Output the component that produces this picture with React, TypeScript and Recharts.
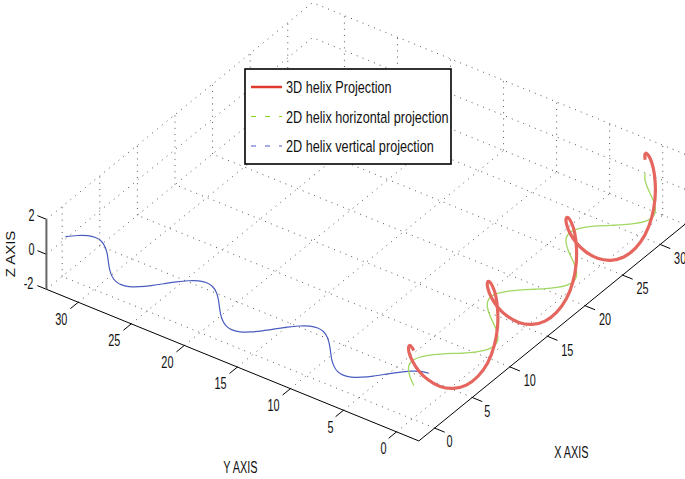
import { ComposedChart, Legend, Line, XAxis, YAxis } from "recharts";

const WIDTH = 685;
const HEIGHT = 479;

// helix values, in axis units
const helixAlong = [
  0, 0.65, 1.31, 1.96, 2.62, 3.27, 3.93, 4.58, 5.24, 5.89, 6.54, 7.2, 7.85, 8.51, 9.16, 9.82, 10.47,
  11.13, 11.78, 12.44, 13.09, 13.74, 14.4, 15.05, 15.71, 16.36, 17.02, 17.67, 18.33, 18.98, 19.63, 20.29, 20.94,
  21.6, 22.25, 22.91, 23.56, 24.22, 24.87, 25.53, 26.18, 26.83, 27.49, 28.14, 28.8, 29.45, 30.11, 30.76, 31.42,
  32.07, 32.72, 33.38,
];
const helixCos = [
  2, 1.85, 1.41, 0.77, 0, -0.77, -1.41, -1.85, -2, -1.85, -1.41, -0.77, 0, 0.77, 1.41, 1.85, 2,
  1.85, 1.41, 0.77, 0, -0.77, -1.41, -1.85, -2, -1.85, -1.41, -0.77, 0, 0.77, 1.41, 1.85, 2,
  1.85, 1.41, 0.77, 0, -0.77, -1.41, -1.85, -2, -1.85, -1.41, -0.77, 0, 0.77, 1.41, 1.85, 2,
  1.85, 1.41, 0.77,
];
const helixSin = [
  0, 0.77, 1.41, 1.85, 2, 1.85, 1.41, 0.77, 0, -0.77, -1.41, -1.85, -2, -1.85, -1.41, -0.77, 0,
  0.77, 1.41, 1.85, 2, 1.85, 1.41, 0.77, 0, -0.77, -1.41, -1.85, -2, -1.85, -1.41, -0.77, 0,
  0.77, 1.41, 1.85, 2, 1.85, 1.41, 0.77, 0, -0.77, -1.41, -1.85, -2, -1.85, -1.41, -0.77, 0,
  0.77, 1.41, 1.85,
];

const xyTicks = [0, 5, 10, 15, 20, 25, 30];
const zTicks = [-2, 0, 2];
const xLim = [-2.1, 33.3];
const yLim = [-2.1, 33];
const zLim = [-2, 2];

const legendRows = [
  { label: "3D helix Projection", color: "#e03a2e", width: 2.5, dash: undefined },
  { label: "2D helix horizontal projection", color: "#84d414", width: 1, dash: "5 9" },
  { label: "2D helix vertical projection", color: "#4a5cc8", width: 1, dash: "5 9" },
];

// MATLAB style orthographic view, fitted to the tick positions
const project = (x: number, y: number, z: number) => ({
  sx: 413.5 + 7.54 * x - 10.64 * y,
  sy: 384 - 6.12 * x - 4.32 * y - 17.5 * z,
});

const seg = (a: number[], b: number[]) => [project(a[0], a[1], a[2]), project(b[0], b[1], b[2])];

const [x0, x1] = xLim;
const [y0, y1] = yLim;
const [z0, z1] = zLim;

const gridLines = [
  ...xyTicks.map((t) => seg([t, y0, z0], [t, y1, z0])),
  ...xyTicks.map((t) => seg([x0, t, z0], [x1, t, z0])),
  ...xyTicks.map((t) => seg([t, y1, z0], [t, y1, z1])),
  ...xyTicks.map((t) => seg([x1, t, z0], [x1, t, z1])),
  ...zTicks.map((t) => seg([x0, y1, t], [x1, y1, t])),
  ...zTicks.map((t) => seg([x1, y0, t], [x1, y1, t])),
];

const axisLines = [
  seg([x0, y0, z0], [x1, y0, z0]),
  seg([x0, y0, z0], [x0, y1, z0]),
  ...xyTicks.map((t) => seg([t, y0, z0], [t, y0 - 0.95, z0])),
  ...xyTicks.map((t) => seg([x0 - 1.05, t, z0], [x0, t, z0])),
  ...zTicks.map((t) => seg([x0, y1, t], [x0, y1 + 0.85, t])),
];
const zAxisLine = seg([x0, y1, z0], [x0, y1, z1]);

const shifted = (p: { sx: number; sy: number }, dx: number, dy: number, label = "", rotate = false) => ({
  sx: p.sx + dx,
  sy: p.sy + dy,
  label,
  rotate,
});

// the curves sit a touch off the fitted grid in the picture
const redData = helixAlong.map((t, i) => shifted(project(t, helixSin[i], helixCos[i]), 1.5, 1.5));
const greenData = helixAlong.map((t, i) => shifted(project(t, helixSin[i], 0), 1.5, 1.5));
const blueData = helixAlong.map((t, i) => shifted(project(helixCos[i], t, 0), 1.5, 1.5));

const labelData = [
  ...xyTicks.map((t) => shifted(project(t, y0, z0), t < 10 ? 15 : 20, 14, String(t))),
  ...xyTicks.map((t) => shifted(project(x0, t, z0), t < 10 ? -13 : -17, 17, String(t))),
  ...zTicks.map((t) => shifted(project(x0, y1, t), t < 0 ? -18 : -15, t === 2 ? -4 : t === 0 ? -5 : -6, String(t))),
  { sx: 573, sy: 453, label: "X AXIS", rotate: false },
  { sx: 241, sy: 468, label: "Y AXIS", rotate: false },
  { sx: 11, sy: 254, label: "Z AXIS", rotate: true },
];

const FONT = "'Liberation Sans', Arial, sans-serif";

function LabelDot(props: any) {
  const { cx, cy, payload, index } = props;
  // the reference is squeezed sideways, text included
  const transform = payload.rotate
    ? `translate(${cx},${cy}) scale(0.8,1) rotate(-90)`
    : `translate(${cx},${cy}) scale(0.68,1)`;
  const size = payload.rotate ? 15 : 16;
  return (
    <text key={index} transform={transform} textAnchor="middle" dominantBaseline="central" fontFamily={FONT} fontSize={size} fill="#111">
      {payload.label}
    </text>
  );
}

function HelixLegend() {
  return (
    <svg width={208} height={97} style={{ display: "block" }}>
      <rect x={1} y={1} width={206} height={95} fill="#fff" stroke="#000" strokeWidth={1.6} />
      {legendRows.map((row, i) => (
        <g key={row.label}>
          <line x1={7} x2={38} y1={19 + i * 29.5} y2={19 + i * 29.5} stroke={row.color} strokeWidth={row.width} strokeDasharray={row.dash} />
          <text transform={`translate(42,${19 + i * 29.5}) scale(0.745,1)`} dominantBaseline="central" fontFamily={FONT} fontSize={17} fill="#111">
            {row.label}
          </text>
        </g>
      ))}
    </svg>
  );
}

export default function App() {
  return (
    <div style={{ position: "fixed", left: 0, top: 0, width: WIDTH, height: HEIGHT, overflow: "hidden", background: "#fff" }}>
      <ComposedChart width={WIDTH} height={HEIGHT} margin={{ top: 0, right: 0, bottom: 0, left: 0 }}>
        <XAxis dataKey="sx" type="number" domain={[0, WIDTH]} hide />
        <YAxis dataKey="sy" type="number" domain={[0, HEIGHT]} reversed hide />
        {gridLines.map((d, i) => (
          <Line key={`grid-${i}`} data={d} dataKey="sy" stroke="#555" strokeWidth={1} strokeDasharray="1 5.2" dot={false} activeDot={false} legendType="none" isAnimationActive={false} />
        ))}
        {axisLines.map((d, i) => (
          <Line key={`axis-${i}`} data={d} dataKey="sy" stroke="#000" strokeWidth={1} dot={false} activeDot={false} legendType="none" isAnimationActive={false} />
        ))}
        <Line data={zAxisLine} dataKey="sy" stroke="#666" strokeWidth={2} dot={false} activeDot={false} legendType="none" isAnimationActive={false} />
        <Line data={blueData} dataKey="sy" type="natural" stroke="#4a5cc0" strokeWidth={1.2} dot={false} activeDot={false} legendType="none" isAnimationActive={false} />
        <Line data={greenData} dataKey="sy" type="natural" stroke="#a0d860" strokeWidth={1.3} dot={false} activeDot={false} legendType="none" isAnimationActive={false} />
        <Line data={redData} dataKey="sy" type="natural" stroke="#e5665f" strokeWidth={3.2} dot={false} activeDot={false} legendType="none" isAnimationActive={false} />
        <Line data={labelData} dataKey="sy" stroke="none" dot={LabelDot} activeDot={false} legendType="none" isAnimationActive={false} />
        <Legend
          layout="horizontal"
          verticalAlign="middle"
          content={<HelixLegend />}
          wrapperStyle={{ position: "absolute", left: 244, top: 68, width: 208, height: 97 }}
        />
      </ComposedChart>
    </div>
  );
}
